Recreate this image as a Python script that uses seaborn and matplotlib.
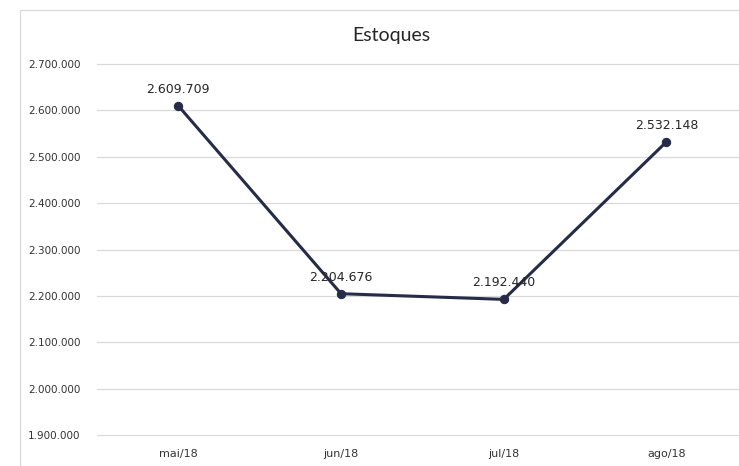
import matplotlib
matplotlib.use("Agg")
import matplotlib.pyplot as plt
import seaborn as sns
import pandas as pd
from matplotlib.patches import Rectangle
from matplotlib.ticker import FuncFormatter

# Data
months = ["mai/18", "jun/18", "jul/18", "ago/18"]
estoques = [2609709, 2204676, 2192440, 2532148]

df = pd.DataFrame({"mes": months, "estoque": estoques})

sns.set_style("white")
plt.rcParams['font.family'] = ['DejaVu Sans']

W, H = 739, 466
fig = plt.figure(figsize=(W / 100, H / 100), dpi=100)

# plot area in pixels: left 97, right beyond the crop, y from 64 to 435
ax = fig.add_axes([97 / W, 1 - 435 / H, 1 - 97 / W, (435 - 64) / H])

line_color = "#262b47"
sns.lineplot(data=df, x="mes", y="estoque", ax=ax, sort=False, color=line_color,
             linewidth=2.2, marker="o", markersize=6, markeredgecolor=line_color)

ax.set_ylim(1900000, 2700000)
ax.set_yticks(range(1900000, 2700001, 100000))
ax.yaxis.set_major_formatter(FuncFormatter(lambda v, p: f"{int(v):,}".replace(",", ".")))
ax.set_xlim(-0.5, (W - 97) / 162.7 - 0.5)

ax.grid(axis="y", color="#d9d9d9", linewidth=0.9)
for gl in ax.get_ygridlines():
    gl.set_clip_on(False)
ax.set_axisbelow(True)
for s in ax.spines.values():
    s.set_visible(False)
ax.tick_params(axis="both", length=0, colors="#333333")
ax.tick_params(axis="y", pad=12, labelsize=7.5)
ax.tick_params(axis="x", pad=10, labelsize=8)
ax.set_xlabel("")
ax.set_ylabel("")

# data labels
for i, v in enumerate(estoques):
    ax.annotate(f"{v:,}".replace(",", "."), (i, v), xytext=(0, 12), textcoords="offset points",
                ha="center", va="center", fontsize=9, color="#262626")

# title
fig.text(391 / W, 1 - 36 / H, "Estoques", ha="center", va="center", fontsize=14,
         color="#262626", family=["Lato", "DejaVu Sans"])

# chart border (cropped on right and bottom)
fig.patches.append(Rectangle((20 / W, -0.1), 1.2, 1.1 - 10 / H, transform=fig.transFigure,
                             fill=False, edgecolor="#d9d9d9", linewidth=0.9))

fig.savefig("out.png", dpi=100)
